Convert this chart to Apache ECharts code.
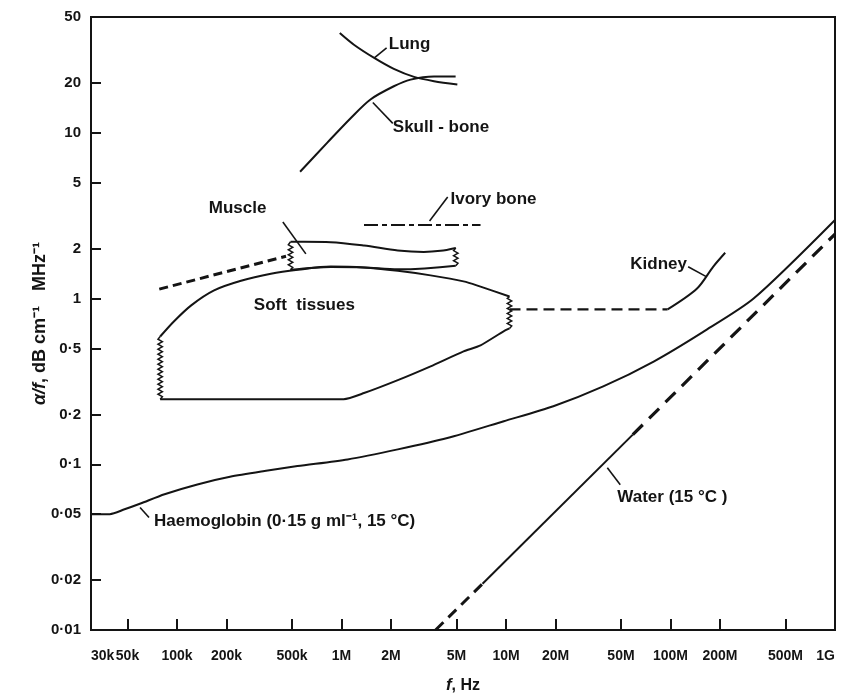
<!DOCTYPE html>
<html>
<head>
<meta charset="utf-8">
<script src="https://cdn.jsdelivr.net/npm/echarts@6/dist/echarts.min.js"></script>
<style>
  html, body { margin: 0; padding: 0; background: #fff; }
  #chart { width: 849px; height: 699px; }
</style>
</head>
<body>
<div id="chart"></div>
<script>
// ---- Axis ticks (frequency in Hz, attenuation coefficient per unit frequency) ----
const xLabelValues = [3e4, 5e4, 1e5, 2e5, 5e5, 1e6, 2e6, 5e6, 1e7, 2e7, 5e7, 1e8, 2e8, 5e8, 1e9];
const xLabelTexts  = ['30k', '50k', '100k', '200k', '500k', '1M', '2M', '5M', '10M', '20M', '50M', '100M', '200M', '500M', '1G'];
const yLabelValues = [0.01, 0.02, 0.05, 0.1, 0.2, 0.5, 1, 2, 5, 10, 20, 50];
const yLabelTexts  = ['0·01', '0·02', '0·05', '0·1', '0·2', '0·5', '1', '2', '5', '10', '20', '50'];

// ---- Haemoglobin (0.15 g/ml, 15 °C) ----
const hbFreq = [3e4, 3.9e4, 4.8e4, 6e4, 8.4e4, 1.33e5, 2.1e5, 3.4e5, 5.4e5, 1.09e6, 2.2e6, 4.4e6, 9.7e6, 1.94e7, 3.9e7, 7.9e7, 1.58e8, 3.2e8, 1e9];
const hbAtt  = [0.05, 0.05, 0.0535, 0.058, 0.066, 0.0756, 0.084, 0.091, 0.0975, 0.107, 0.123, 0.144, 0.182, 0.224, 0.295, 0.417, 0.63, 1.0, 2.98];

// ---- Water (15 °C): dashed / solid / dashed pieces between break points ----
const waterFreq = [3.73e6, 7.2e6, 5.9e7, 1e9];
const waterAtt  = [0.01, 0.019, 0.151, 2.45];

// ---- Kidney ----
const kidneyDashFreq = [1.05e7, 9.6e7];
const kidneyDashAtt  = [0.86, 0.86];
const kidneyFreq = [9.6e7, 1.45e8, 1.82e8, 2.15e8];
const kidneyAtt  = [0.86, 1.15, 1.56, 1.89];

// ---- Soft tissues region ----
const softUpperFreq = [7.9e4, 9.6e4, 1.22e5, 1.68e5, 2.45e5, 3.72e5, 5.43e5, 8.6e5, 1.37e6, 2.2e6, 3.48e6, 5.52e6, 7.0e6, 1.05e7];
const softUpperAtt  = [0.59, 0.73, 0.91, 1.12, 1.28, 1.41, 1.49, 1.56, 1.54, 1.47, 1.38, 1.27, 1.18, 1.03];
const softLowerFreq = [7.9e4, 1.03e6, 1.37e6, 2.2e6, 3.48e6, 5.52e6, 7.0e6, 9.66e6, 1.05e7];
const softLowerAtt  = [0.247, 0.247, 0.269, 0.322, 0.39, 0.48, 0.522, 0.634, 0.66];
// ragged (broken) ends: [frequency, low, high]
const softEdges = [[7.9e4, 0.247, 0.59], [1.05e7, 0.66, 1.03]];

// ---- Muscle band ----
const muscleUpperFreq = [4.9e5, 5.9e5, 8.6e5, 1.37e6, 2.2e6, 3.16e6, 4.0e6, 4.95e6];
const muscleUpperAtt  = [2.2, 2.2, 2.19, 2.09, 1.95, 1.91, 1.94, 2.02];
const muscleLowerFreq = [4.9e5, 8.6e5, 1.37e6, 2.2e6, 3.2e6, 4.95e6];
const muscleLowerAtt  = [1.49, 1.55, 1.54, 1.5, 1.52, 1.58];
const muscleEdges = [[4.9e5, 1.49, 2.2], [4.95e6, 1.58, 2.02]];
const muscleDashFreq = [7.8e4, 4.6e5];
const muscleDashAtt  = [1.14, 1.8];

// ---- Ivory bone ----
const ivoryFreq = [1.37e6, 7.0e6];
const ivoryAtt  = [2.78, 2.78];

// ---- Lung ----
const lungFreq = [9.76e5, 1.19e6, 1.58e6, 2.08e6, 2.76e6, 3.65e6, 5.06e6];
const lungAtt  = [40, 34, 28.3, 24.3, 21.75, 20.5, 19.6];

// ---- Skull bone ----
const skullFreq = [5.6e5, 8.2e5, 1.14e6, 1.5e6, 2.08e6, 2.63e6, 3.65e6, 4.94e6];
const skullAtt  = [5.82, 8.73, 12.3, 15.9, 19.1, 20.95, 21.9, 21.9];

// ---- Text annotations (anchor at left-middle of text, data units) ----
const notes = [
  { text: 'Lung', f: 1.94e6, v: 34.0 },
  { text: 'Skull - bone', f: 2.05e6, v: 10.8 },
  { text: 'Ivory bone', f: 4.6e6, v: 3.99 },
  { text: 'Muscle', f: 1.56e5, v: 3.52 },
  { text: 'Soft  tissues', f: 2.93e5, v: 0.908 },
  { text: 'Kidney', f: 5.7e7, v: 1.6 },
  { text: 'Haemoglobin (0·15 g ml⁻¹, 15 °C)', f: 7.25e4, v: 0.0452 },
  { text: 'Water (15 °C )', f: 4.75e7, v: 0.0629 }
];
// pointer arrows: [fromF, fromV, toF, toV, withHead]
const pointers = [
  [1.88e6, 32.6, 1.59e6, 28.4, true],
  [2.05e6, 11.4, 1.55e6, 15.25, true],
  [4.42e6, 4.10, 3.43e6, 2.94, true],
  [4.4e5, 2.90, 6.07e5, 1.86, false],
  [1.28e8, 1.557, 1.65e8, 1.356, true],
  [6.76e4, 0.0477, 5.96e4, 0.0548, true],
  [4.95e7, 0.0753, 4.13e7, 0.0953, true]
];

const FONT = 'Liberation Sans, Arial, sans-serif';
const INK = '#141414';

function pairs(xs, ys) { return xs.map((x, i) => [x, ys[i]]); }
function labelFor(v, values, texts) {
  let best = 0, bd = Infinity;
  for (let i = 0; i < values.length; i++) {
    const d = Math.abs(Math.log10(v) - Math.log10(values[i]));
    if (d < bd) { bd = d; best = i; }
  }
  return bd < 0.02 ? texts[best] : '';
}
// keep the end labels a hair inside the axis extent so they are not filtered out
function inside(values) {
  const out = values.slice();
  out[0] = out[0] * 1.0005;
  out[out.length - 1] = out[out.length - 1] * 0.9995;
  return out;
}

// ragged break mark drawn between two attenuation values at one frequency
function zigzag(params, api) {
  const a = api.coord([api.value(0), api.value(1)]);
  const b = api.coord([api.value(0), api.value(2)]);
  const x = a[0];
  const bot = Math.max(a[1], b[1]);
  const top = Math.min(a[1], b[1]);
  const pts = [[x, bot]];
  let k = 0;
  for (let y = bot - 2.5; y > top + 1; y -= 2.5, k++) {
    pts.push([x + (k % 2 === 0 ? 2.2 : -2.2), y]);
  }
  pts.push([x, top]);
  return {
    type: 'polyline',
    shape: { points: pts },
    style: { stroke: INK, lineWidth: 1.5, fill: null }
  };
}

function curve(name, xs, ys, opts) {
  opts = opts || {};
  return {
    name: name,
    type: 'line',
    data: pairs(xs, ys),
    showSymbol: false,
    symbol: 'none',
    smooth: opts.smooth === undefined ? 0.3 : opts.smooth,
    lineStyle: {
      color: INK,
      width: opts.width || 2,
      type: opts.dash || 'solid',
      cap: 'butt'
    },
    z: 3,
    silent: true
  };
}

const chart = echarts.init(document.getElementById('chart'), null, { renderer: 'canvas' });

const option = {
  animation: false,
  backgroundColor: '#ffffff',
  grid: {
    left: 91, right: 14, top: 17, bottom: 66,
    show: true, borderColor: INK, borderWidth: 2, backgroundColor: 'transparent'
  },
  xAxis: {
    type: 'log',
    logBase: 10,
    min: 3e4,
    max: 1e9,
    axisLine: { show: true, lineStyle: { color: INK, width: 2 } },
    axisTick: {
      show: true, inside: true, length: 11,
      customValues: xLabelValues.slice(1, -1),
      lineStyle: { color: INK, width: 2 }
    },
    minorTick: { show: false },
    splitLine: { show: false },
    axisLabel: {
      customValues: inside(xLabelValues),
      formatter: v => labelFor(v, xLabelValues, xLabelTexts),
      color: INK, fontFamily: FONT, fontWeight: 'bold', fontSize: 14,
      margin: 19,
      showMinLabel: true, showMaxLabel: true,
      hideOverlap: false,
      alignMinLabel: 'left', alignMaxLabel: 'right'
    },
    name: '{i|f}, Hz',
    nameLocation: 'middle',
    nameGap: 47,
    nameMoveOverlap: false,
    nameTextStyle: {
      color: INK, fontFamily: FONT, fontWeight: 'bold', fontSize: 16,
      rich: { i: { fontStyle: 'italic', fontWeight: 'bold', fontSize: 17, fontFamily: FONT, color: INK } }
    }
  },
  yAxis: {
    type: 'log',
    logBase: 10,
    min: 0.01,
    max: 50,
    axisLine: { show: true, lineStyle: { color: INK, width: 2 } },
    axisTick: {
      show: true, inside: true, length: 10,
      customValues: yLabelValues.slice(1, -1),
      lineStyle: { color: INK, width: 2 }
    },
    minorTick: { show: false },
    splitLine: { show: false },
    axisLabel: {
      customValues: inside(yLabelValues),
      formatter: v => labelFor(v, yLabelValues, yLabelTexts),
      color: INK, fontFamily: FONT, fontWeight: 'bold', fontSize: 15,
      showMinLabel: true, showMaxLabel: true,
      margin: 10
    },
    name: '{i|α/f}, dB cm⁻¹   MHz⁻¹',
    nameLocation: 'middle',
    nameGap: 42,
    nameMoveOverlap: false,
    nameTextStyle: {
      color: INK, fontFamily: FONT, fontWeight: 'bold', fontSize: 18,
      rich: { i: { fontStyle: 'italic', fontWeight: 'bold', fontSize: 18, fontFamily: FONT, color: INK } }
    }
  },
  series: [
    curve('Haemoglobin', hbFreq, hbAtt, { smooth: 0.25 }),
    curve('Water low', waterFreq.slice(0, 2), waterAtt.slice(0, 2), { smooth: false, dash: [11, 7], width: 3 }),
    curve('Water', waterFreq.slice(1, 3), waterAtt.slice(1, 3), { smooth: false, width: 2 }),
    curve('Water high', waterFreq.slice(2), waterAtt.slice(2), { smooth: false, dash: [14, 9], width: 3.2 }),
    curve('Kidney extension', kidneyDashFreq, kidneyDashAtt, { smooth: false, dash: [11, 6], width: 2.2 }),
    curve('Kidney', kidneyFreq, kidneyAtt, { smooth: 0.3 }),
    curve('Soft tissues upper', softUpperFreq, softUpperAtt, { smooth: 0.3 }),
    curve('Soft tissues lower', softLowerFreq, softLowerAtt, { smooth: 0.2 }),
    curve('Muscle upper', muscleUpperFreq, muscleUpperAtt, { smooth: 0.3 }),
    curve('Muscle lower', muscleLowerFreq, muscleLowerAtt, { smooth: 0.3 }),
    curve('Muscle extension', muscleDashFreq, muscleDashAtt, { smooth: false, dash: [9, 5], width: 3 }),
    curve('Ivory bone', ivoryFreq, ivoryAtt, { smooth: false, dash: [14, 4, 5, 4], width: 2 }),
    curve('Lung', lungFreq, lungAtt, { smooth: 0.3 }),
    curve('Skull bone', skullFreq, skullAtt, { smooth: 0.3 }),
    {
      name: 'Breaks',
      type: 'custom',
      renderItem: zigzag,
      data: softEdges.concat(muscleEdges),
      encode: { x: 0, y: [1, 2] },
      silent: true,
      z: 4
    },
    {
      name: 'Notes',
      type: 'scatter',
      symbolSize: 0,
      silent: true,
      itemStyle: { color: INK, opacity: 1 },
      data: notes.map(n => ({ name: n.text, value: [n.f, n.v] })),
      label: {
        show: true,
        position: 'right',
        distance: 0,
        formatter: '{b}',
        color: INK,
        opacity: 1,
        fontFamily: FONT,
        fontWeight: 'bold',
        fontSize: 17
      },
      markLine: {
        silent: true,
        animation: false,
        symbol: ['none', 'arrow'],
        symbolSize: [0, 8],
        label: { show: false },
        lineStyle: { color: INK, width: 1.6, type: 'solid', opacity: 1 },
        data: pointers.map(p => [
          { coord: [p[0], p[1]], symbol: 'none' },
          { coord: [p[2], p[3]], symbol: p[4] ? 'arrow' : 'none' }
        ])
      },
      z: 5
    }
  ]
};

chart.setOption(option);
</script>
</body>
</html>
